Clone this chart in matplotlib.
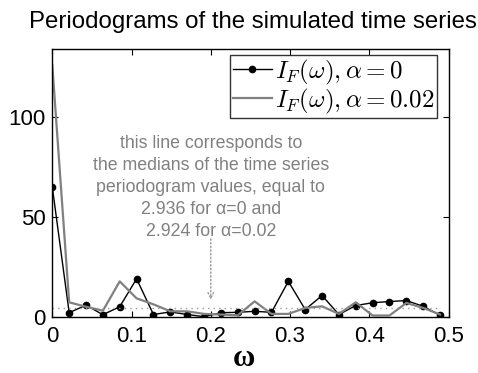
import numpy as np
import matplotlib
matplotlib.use('Agg')
import matplotlib.pyplot as plt

plt.rcParams['font.family'] = ['Liberation Sans', 'DejaVu Sans']
plt.rcParams['mathtext.fontset'] = 'cm'

# frequencies k/47, k = 0..23
k = np.arange(24)
omega = k / 47.0

# periodogram, alpha = 0 (black, dots)
I_a0 = [65, 2, 5.8, 1, 5, 19, 1.1, 2.4, 1.1, 0, 2, 2.2,
        2.7, 2.2, 17.7, 3.6, 10.6, 1.1, 5.6, 7, 7.6, 8.1, 5.2, 0.7]
# periodogram, alpha = 0.02 (gray)
I_a002 = [126, 7.2, 5, 3, 17.7, 9.2, 6.2, 2.7, 2.7, 1.4, 1.1, 0.7,
          7.7, 1.4, 1.4, 4.4, 5.2, 1.4, 7.2, 0.6, 0.6, 6.9, 4.4, 1.1]
median_level = 4.2

note = ("this line corresponds to\n"
        "the medians of the time series\n"
        "periodogram values, equal to\n"
        "2.936 for \u03b1=0 and\n"
        "2.924 for \u03b1=0.02")

fig = plt.figure(figsize=(4.78, 3.73), dpi=100)
ax = fig.add_axes([52.3/478, 1-316.7/373, (448.5-52.3)/478, (316.7-49.3)/373])

ax.plot(omega, I_a0, color='black', lw=1, marker='o', ms=4.5,
        label=r'$I_F(\omega), \alpha = 0$')
ax.plot(omega, I_a002, color='#808080', lw=1.6,
        label=r'$I_F(\omega), \alpha = 0.02$')

# median line
ax.plot([omega[0], omega[-1]], [median_level, median_level], color='#999999',
        lw=1, ls=(0, (1, 3)))

ax.annotate('', xy=(0.2, 8.5), xytext=(0.2, 39),
            arrowprops=dict(arrowstyle='->', color='#999999', lw=1,
                            ls=':', shrinkA=0, shrinkB=0))
ax.text(0.2, 64.7, note, ha='center', va='center', multialignment='center',
        color='#808080', fontsize=12.8, linespacing=1.37)

ax.set_xlim(0, 0.5)
ax.set_ylim(0, 134)
ax.set_xticks([0, 0.1, 0.2, 0.3, 0.4, 0.5])
ax.set_xticklabels(['0', '0.1', '0.2', '0.3', '0.4', '0.5'])
ax.set_yticks([0, 50, 100])
ax.tick_params(direction='in', length=4, width=0.8, top=True, right=True,
               labelsize=16, pad=5)
ax.tick_params(axis='x', pad=7)
for s in ax.spines.values():
    s.set_linewidth(1)

leg = ax.legend(loc='upper right', bbox_to_anchor=(437.3/478, 1-55/373),
                bbox_transform=fig.transFigure, borderaxespad=0,
                fontsize=18, frameon=True, fancybox=False,
                edgecolor='black', handlelength=1.55, handletextpad=0.15,
                borderpad=0.1, labelspacing=0.0)
leg.get_frame().set_linewidth(1)

fig.text(252.5/478, 1-22/373, 'Periodograms of the simulated time series',
         ha='center', va='center', fontsize=17.3)
fig.text(243.5/478, 1-366/373, '\u03c9', ha='center', va='baseline',
         fontsize=22, fontweight='bold', family=['Liberation Serif', 'DejaVu Serif'])

fig.savefig('out.png', dpi=100)
